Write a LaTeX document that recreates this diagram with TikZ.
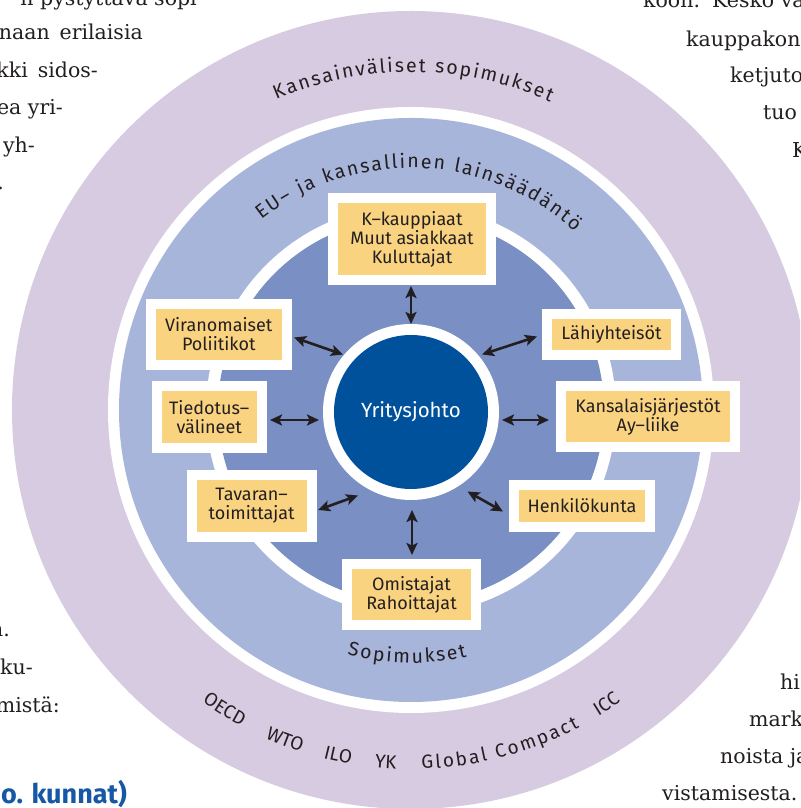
\documentclass[tikz,border=0pt]{standalone}
\usepackage{fontspec}
\setmainfont{Fira Sans}
\newfontfamily\pageserif{DejaVu Serif}
\usetikzlibrary{decorations.text,arrows.meta,calc}
\definecolor{ringpurple}{RGB}{214,203,224}
\definecolor{ringlight}{RGB}{168,181,218}
\definecolor{ringmid}{RGB}{122,143,196}
\definecolor{coreblue}{RGB}{0,81,155}
\definecolor{boxyellow}{RGB}{250,211,128}
\definecolor{inkdark}{RGB}{35,31,32}
\definecolor{headblue}{RGB}{22,88,165}
\newcommand\boxfont{\fontsize{18}{19}\selectfont}
\newcommand\arcfont{\fontsize{19.5}{22}\selectfont}
\newcommand\outerfont{\fontsize{19}{22}\selectfont}
\newcommand\corefont{\fontsize{20.5}{24}\selectfont}
\newcommand\pagefont{\pageserif\fontsize{20.5}{24}\selectfont}
\tikzset{
  ybox/.style={fill=boxyellow, draw=white, line width=10pt, inner sep=0pt, align=center, text=inkdark, font=\boxfont},
  twoway/.style={{Stealth[length=12pt,width=11pt,inset=2.5pt]}-{Stealth[length=12pt,width=11pt,inset=2.5pt]}, line width=2.6pt, draw=inkdark},
  pagetext/.style={font=\pagefont, text=inkdark, inner sep=0pt},
  arctext/.style={decorate, decoration={text along path, text color=inkdark, text align={fit to path}, text={#1}}},
  arcword/.style={decorate, decoration={text along path, text color=inkdark, text align={center}, text={#1}}}
}
\begin{document}
\begin{tikzpicture}[x=1pt,y=1pt]
\useasboundingbox (0,0) rectangle (800,808);
\fill[white] (0,0) rectangle (800,808);
\clip (0,0) rectangle (800,808);
\coordinate (C) at (411,398);
\coordinate (I) at (411,396);
% rings
\fill[ringpurple] (C) circle (399);
\fill[white] (C) circle (303);
\fill[ringlight] (C) circle (292);
\fill[white] (C) circle (205);
\fill[ringmid] (C) circle (193);
\fill[white] (I) circle (88);
\node[circle, fill=coreblue, minimum size=154pt, inner sep=0pt, text=white, font=\corefont] (core) at (I) {Yritysjohto};
% curved texts
\path[arctext={|\arcfont|Kansainväliset sopimukset}] ($(C)+(113.5:338)$) arc[start angle=113.5, end angle=65.7, radius=338];
\path[arctext={|\arcfont|EU– ja kansallinen lainsäädäntö}] ($(C)+(128.2:242)$) arc[start angle=128.2, end angle=47.5, radius=242];
\path[arctext={|\arcfont|Sopimukset}] ($(C)+(-104.6:253)$) arc[start angle=-104.6, end angle=-77.2, radius=253];
\path[arcword={|\outerfont|OECD}] ($(C)+(-136.9:359)$) arc[start angle=-136.9, end angle=-106.9, radius=359];
\path[arcword={|\outerfont|WTO}] ($(C)+(-125.9:359)$) arc[start angle=-125.9, end angle=-95.9, radius=359];
\path[arcword={|\outerfont|ILO}] ($(C)+(-116.9:359)$) arc[start angle=-116.9, end angle=-86.9, radius=359];
\path[arcword={|\outerfont|YK}] ($(C)+(-109.1:359)$) arc[start angle=-109.1, end angle=-79.1, radius=359];
\path[arctext={|\outerfont|Global Compact}] ($(C)+(-88.3:359)$) arc[start angle=-88.3, end angle=-62.0, radius=359];
\path[arcword={|\outerfont|ICC}] ($(C)+(-71.4:359)$) arc[start angle=-71.4, end angle=-41.4, radius=359];
% boxes
\node[ybox, minimum width=158pt, minimum height=82pt] (kk) at (412,569) {K–kauppiaat\\Muut asiakkaat\\Kuluttajat};
\node[ybox, minimum width=135.5pt, minimum height=61pt] (vir) at (218.75,473.5) {Viranomaiset\\Poliitikot};
\node[ybox, minimum width=129pt, minimum height=41.5pt] (lah) at (611.5,473.25) {Lähiyhteisöt};
\node[ybox, minimum width=105pt, minimum height=62pt] (tie) at (209.2,391) {Tiedotus–\\välineet};
\node[ybox, minimum width=174pt, minimum height=61pt] (kan) at (648,391.5) {Kansalaisjärjestöt\\Ay–liike};
\node[ybox, minimum width=120pt, minimum height=62pt] (tav) at (251.6,302) {Tavaran–\\toimittajat};
\node[ybox, minimum width=136pt, minimum height=42pt] (hen) at (582,302) {Henkilökunta};
\node[ybox, minimum width=129pt, minimum height=61pt] (omi) at (411.5,213.5) {Omistajat\\Rahoittajat};
% arrows
\coordinate (kkA) at (411,522); \coordinate (kkB) at (411,484);
\coordinate (virA) at (294,470.5); \coordinate (virB) at (343,453.5);
\coordinate (lahA) at (537,471.5); \coordinate (lahB) at (482,453.5);
\coordinate (tieA) at (270,388); \coordinate (tieB) at (319,388);
\coordinate (kanA) at (549,388); \coordinate (kanB) at (502,388);
\coordinate (tavA) at (318,298); \coordinate (tavB) at (358,312.5);
\coordinate (henA) at (503,296.5); \coordinate (henB) at (467.5,316.5);
\coordinate (omiA) at (412,253); \coordinate (omiB) at (412,298);
\draw[twoway] (kkA) -- (kkB);
\draw[twoway] (virA) -- (virB);
\draw[twoway] (lahA) -- (lahB);
\draw[twoway] (tieA) -- (tieB);
\draw[twoway] (kanA) -- (kanB);
\draw[twoway] (tavA) -- (tavB);
\draw[twoway] (henA) -- (henB);
\draw[twoway] (omiA) -- (omiB);
% page text around
\node[pagetext, anchor=base east] (l1) at (197,802) {n pystyttävä sopi};
\node[pagetext, anchor=base east] (l2) at (143,768) {naan\, erilaisia};
\node[pagetext, anchor=base east] (l3) at (98,730) {kki\, sidos-};
\node[pagetext, anchor=base east] (l4) at (63,693) {ea yri-};
\node[pagetext, anchor=base east] (l5) at (35,655) {yh-};
\node[pagetext, anchor=base east] (l6) at (4,618) {.};
\node[pagetext, anchor=base west] (r1) at (643,800) {koon.\, Kesko va};
\node[pagetext, anchor=base west] (r2) at (686,761) {kauppakons};
\node[pagetext, anchor=base west] (r3) at (730,725) {ketjuto};
\node[pagetext, anchor=base west] (r4) at (763,688) {tuo};
\node[pagetext, anchor=base west] (r5) at (792,650) {K};
\node[pagetext, anchor=base east] (b1) at (10,171) {n.};
\node[pagetext, anchor=base east] (b2) at (33,133) {ku-};
\node[pagetext, anchor=base east] (b3) at (60,95) {mistä:};
\node[anchor=base east, inner sep=0pt, text=headblue, font=\bfseries\fontsize{27}{30}\selectfont] (b4) at (127,5) {o. kunnat)};
\node[pagetext, anchor=base west] (br1) at (780,118) {hi};
\node[pagetext, anchor=base west] (br2) at (749,81) {mark};
\node[pagetext, anchor=base west] (br3) at (720,44) {noista ja};
\node[pagetext, anchor=base west] (br4) at (662,7) {vistamisesta.};
\end{tikzpicture}
\end{document}
